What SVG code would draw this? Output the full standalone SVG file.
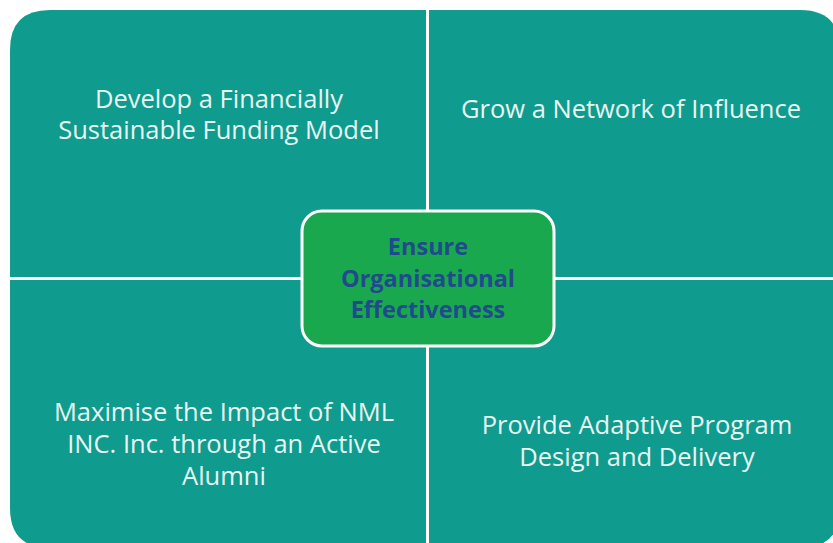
<svg xmlns="http://www.w3.org/2000/svg" width="833" height="543" viewBox="0 0 833 543">
<style>
.quad{fill:#0f9b8e}
.qt{font-family:"Open Sans","Noto Sans",sans-serif;font-size:25.5px;fill:#e8f6f3;text-anchor:middle}
.ct{font-family:"Open Sans","Noto Sans",sans-serif;font-size:23.5px;font-weight:bold;fill:#1f4b8c;text-anchor:middle}
</style>
<rect width="833" height="543" fill="#ffffff"/>
<g id="quad-tl">
<path class="quad" d="M10,50 Q10,10 50,10 L426,10 L426,277 L10,277 Z"/>
<text class="qt" x="219" y="108">Develop a Financially</text>
<text class="qt" x="219" y="139">Sustainable Funding Model</text>
</g>
<g id="quad-tr">
<path class="quad" d="M429,10 L800,10 Q840,10 840,50 L840,277 L429,277 Z"/>
<text class="qt" x="631" y="118">Grow a Network of Influence</text>
</g>
<g id="quad-bl">
<path class="quad" d="M10,280 L426,280 L426,548 L50,548 Q10,548 10,508 Z"/>
<text class="qt" x="224" y="421">Maximise the Impact of NML</text>
<text class="qt" x="224" y="453">INC. Inc. through an Active</text>
<text class="qt" x="224" y="485">Alumni</text>
</g>
<g id="quad-br">
<path class="quad" d="M429,280 L840,280 L840,508 Q840,548 800,548 L429,548 Z"/>
<text class="qt" x="637" y="434">Provide Adaptive Program</text>
<text class="qt" x="637" y="466">Design and Delivery</text>
</g>
<g id="connectors"></g>
<g id="center">
<rect x="302" y="211" width="252" height="135" rx="20" fill="#1aa84f" stroke="#ffffff" stroke-width="3"/>
<text class="ct" x="428" y="255">Ensure</text>
<text class="ct" x="428" y="287">Organisational</text>
<text class="ct" x="428" y="318">Effectiveness</text>
</g>
</svg>
